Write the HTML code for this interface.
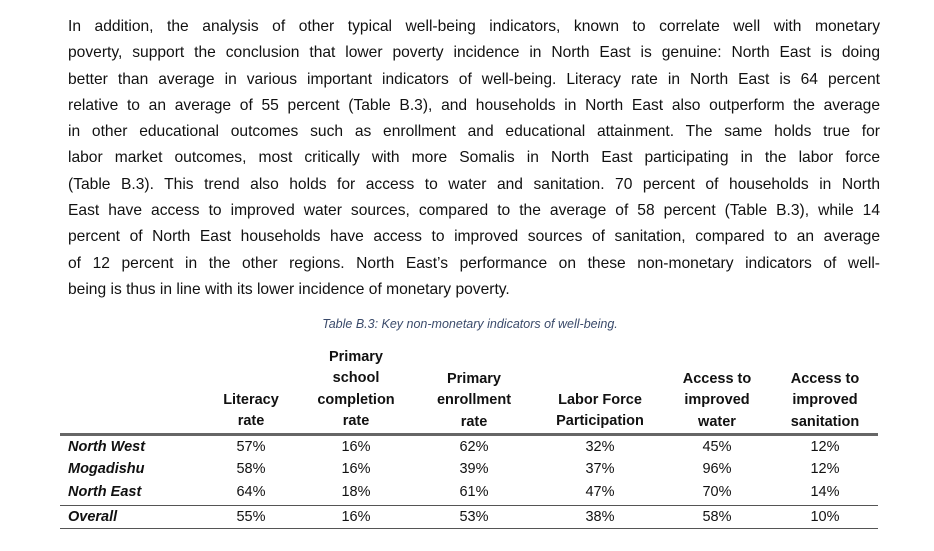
<!DOCTYPE html>
<html><head><meta charset="utf-8"><style>
body{margin:0;background:#fff;width:934px;height:551px;overflow:hidden;font-family:"Liberation Sans",sans-serif;color:#111}
.p{position:absolute;left:68px;width:812px;top:14px}
.p div{height:26.3px;line-height:26.3px;font-size:15.6px;text-align:justify;text-align-last:justify;white-space:nowrap;overflow:visible}
.p div.l{text-align-last:left}
.cap{position:absolute;top:317px;left:0;width:940px;text-align:center;font-style:italic;font-size:12.5px;color:#3a4a6a}
.h{position:absolute;font-weight:bold;font-size:14.5px;text-align:center;width:130px;line-height:21.3px}
.c{position:absolute;text-align:center;width:100px;font-size:14.5px}
.r{position:absolute;left:68px;font-weight:bold;font-style:italic;font-size:14.5px}
.ln{position:absolute;left:60px;width:818px;background:#555}
</style></head><body>
<div class="p">
<div>In addition, the analysis of other typical well-being indicators, known to correlate well with monetary</div>
<div>poverty, support the conclusion that lower poverty incidence in North East is genuine: North East is doing</div>
<div>better than average in various important indicators of well-being. Literacy rate in North East is 64 percent</div>
<div>relative to an average of 55 percent (Table B.3), and households in North East also outperform the average</div>
<div>in other educational outcomes such as enrollment and educational attainment. The same holds true for</div>
<div>labor market outcomes, most critically with more Somalis in North East participating in the labor force</div>
<div>(Table B.3). This trend also holds for access to water and sanitation. 70 percent of households in North</div>
<div>East have access to improved water sources, compared to the average of 58 percent (Table B.3), while 14</div>
<div>percent of North East households have access to improved sources of sanitation, compared to an average</div>
<div>of 12 percent in the other regions. North East’s performance on these non-monetary indicators of well-</div>
<div class="l">being is thus in line with its lower incidence of monetary poverty.</div>
</div>
<div class="cap">Table B.3: Key non-monetary indicators of well-being.</div>
<div class="h" style="left:186px;top:390px">Literacy<br>rate</div>
<div class="h" style="left:291px;top:347px">Primary<br>school<br>completion<br>rate</div>
<div class="h" style="left:409px;top:369px">Primary<br>enrollment<br>rate</div>
<div class="h" style="left:535px;top:390px">Labor Force<br>Participation</div>
<div class="h" style="left:652px;top:369px">Access to<br>improved<br>water</div>
<div class="h" style="left:760px;top:369px">Access to<br>improved<br>sanitation</div>
<div class="ln" style="top:433px;height:3px;background:#666"></div>
<div class="ln" style="top:505px;height:1px"></div>
<div class="ln" style="top:528px;height:1px"></div>
<div class="r" style="top:439px">North West</div>
<div class="r" style="top:461px">Mogadishu</div>
<div class="r" style="top:484px">North East</div>
<div class="r" style="top:509px">Overall</div>
<div style="position:absolute;top:439px;left:0">
<div class="c" style="left:201px">57%</div><div class="c" style="left:306px">16%</div><div class="c" style="left:424px">62%</div><div class="c" style="left:550px">32%</div><div class="c" style="left:667px">45%</div><div class="c" style="left:775px">12%</div>
</div>
<div style="position:absolute;top:461px;left:0">
<div class="c" style="left:201px">58%</div><div class="c" style="left:306px">16%</div><div class="c" style="left:424px">39%</div><div class="c" style="left:550px">37%</div><div class="c" style="left:667px">96%</div><div class="c" style="left:775px">12%</div>
</div>
<div style="position:absolute;top:484px;left:0">
<div class="c" style="left:201px">64%</div><div class="c" style="left:306px">18%</div><div class="c" style="left:424px">61%</div><div class="c" style="left:550px">47%</div><div class="c" style="left:667px">70%</div><div class="c" style="left:775px">14%</div>
</div>
<div style="position:absolute;top:509px;left:0">
<div class="c" style="left:201px">55%</div><div class="c" style="left:306px">16%</div><div class="c" style="left:424px">53%</div><div class="c" style="left:550px">38%</div><div class="c" style="left:667px">58%</div><div class="c" style="left:775px">10%</div>
</div>
</body></html>
